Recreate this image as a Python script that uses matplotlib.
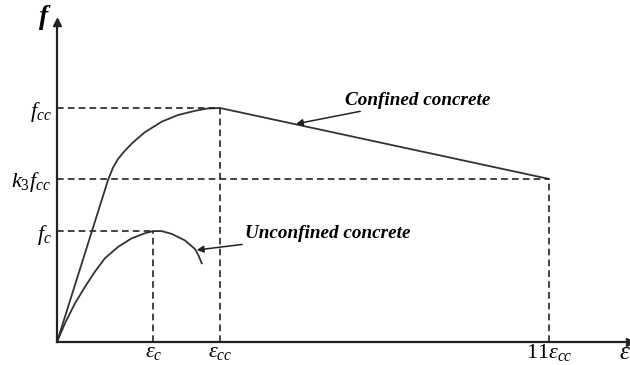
import matplotlib
matplotlib.use("Agg")
from matplotlib import pyplot as plt

# Schematic stress-strain model (strain in units of eps_cc, stress in units of f_cc)
eps_c, eps_cc, eps_u = 0.591, 1.0, 3.018
f_c, f_cc, k3_fcc = 0.474, 1.0, 0.697

# Confined concrete curve
conf_x = [0.0, 0.313, 0.344, 0.374, 0.417, 0.466, 0.540, 0.644, 0.742, 0.847, 0.926, 1.0, 3.018]
conf_y = [0.0, 0.692, 0.746, 0.782, 0.818, 0.853, 0.897, 0.942, 0.970, 0.988, 0.998, 1.0, 0.697]

# Unconfined concrete curve
unc_x = [0.0, 0.049, 0.110, 0.172, 0.233, 0.294, 0.376, 0.458, 0.540, 0.591, 0.642, 0.704, 0.785, 0.847, 0.868, 0.888]
unc_y = [0.0, 0.080, 0.165, 0.236, 0.301, 0.358, 0.407, 0.443, 0.465, 0.474, 0.474, 0.462, 0.434, 0.397, 0.370, 0.336]

xtick_pos = [eps_c, eps_cc, eps_u]
xtick_lab = [r'$\varepsilon_c$', r'$\varepsilon_{cc}$', r'$11\varepsilon_{cc}$']
ytick_pos = [f_c, k3_fcc, f_cc]
ytick_lab = [r'$f_c$', r'$k_3f_{cc}$', r'$f_{cc}$']

plt.rcParams['mathtext.fontset'] = 'custom'
plt.rcParams['mathtext.rm'] = 'Liberation Serif'
plt.rcParams['mathtext.it'] = 'Liberation Serif:italic'
plt.rcParams['mathtext.bf'] = 'Liberation Serif:bold:italic'

fig = plt.figure(figsize=(6.3, 3.65), dpi=100)
ax = fig.add_axes([57/630, 23/365, 573/630, 320/365])
ax.set_xlim(0, 573/163)
ax.set_ylim(0, 320/234)

line_c = '#333333'
ax.plot(conf_x, conf_y, color=line_c, lw=1.3, solid_joinstyle='round')
ax.plot(unc_x, unc_y, color=line_c, lw=1.3, solid_joinstyle='round')

# dashed guides
dash = dict(color='#222222', lw=1.2, ls=(0, (4, 2.5)))
ax.plot([0, eps_cc], [f_cc, f_cc], **dash)
ax.plot([eps_cc, eps_cc], [0, f_cc], **dash)
ax.plot([0, eps_u], [k3_fcc, k3_fcc], **dash)
ax.plot([eps_u, eps_u], [0, k3_fcc], **dash)
ax.plot([0, eps_c], [f_c, f_c], **dash)
ax.plot([eps_c, eps_c], [0, f_c], **dash)

# axes look
for s in ['top', 'right']:
    ax.spines[s].set_visible(False)
for s in ['left', 'bottom']:
    ax.spines[s].set_linewidth(1.6)
    ax.spines[s].set_color('#222222')
ax.plot(0, 1, '^', color='#222222', ms=6, transform=ax.transAxes, clip_on=False)
ax.plot(1, 0, '>', color='#222222', ms=6, transform=ax.transAxes, clip_on=False)

ax.set_xticks(xtick_pos)
ax.set_xticklabels(xtick_lab, fontsize=16)
ax.set_yticks(ytick_pos)
ax.set_yticklabels(ytick_lab, fontsize=16)
ax.tick_params(axis='x', length=0, pad=0)
ax.tick_params(axis='y', length=0, pad=4)

fig.text(44/630, 1 - 18/365, 'f', family='Liberation Serif', style='italic', weight='bold',
         fontsize=20, ha='center', va='center')
fig.text(625/630, 1 - 352/365, r'$\varepsilon$', fontsize=18, ha='center', va='center')

# labels with arrows
tfont = dict(family='Liberation Serif', style='italic', weight='bold', fontsize=13.8)
ax.annotate('Confined concrete', xy=(1.466, 0.932), xytext=(1.767, 1.034),
            va='center', ha='left', **tfont,
            arrowprops=dict(arrowstyle='-|>', color='#222222', lw=1.1, mutation_scale=10,
                            shrinkA=0, shrinkB=0))
ax.annotate('Unconfined concrete', xy=(0.857, 0.393), xytext=(1.153, 0.462),
            va='center', ha='left', **tfont,
            arrowprops=dict(arrowstyle='-|>', color='#222222', lw=1.1, mutation_scale=10,
                            shrinkA=0, shrinkB=0))

plt.savefig('out.png', dpi=100)
